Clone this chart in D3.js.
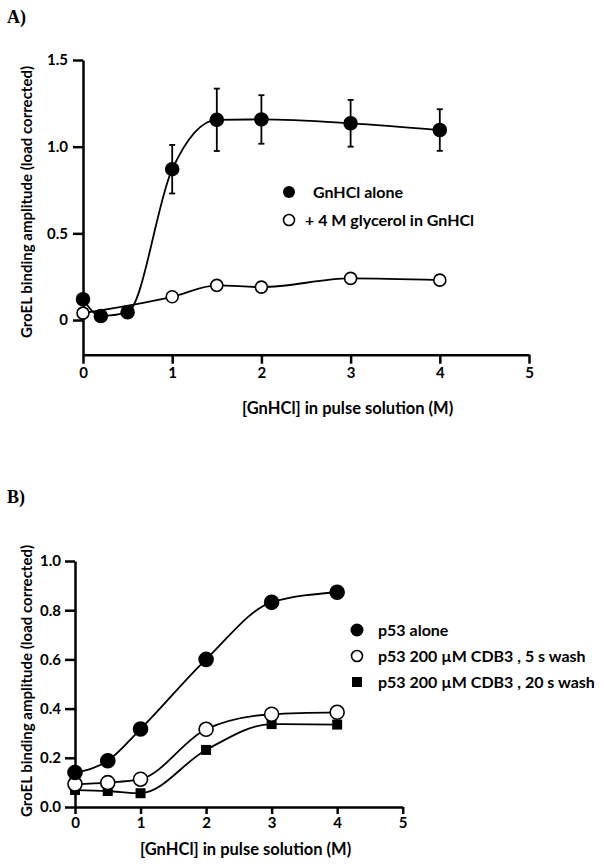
<!DOCTYPE html>
<html>
<head>
<meta charset="utf-8">
<script src="https://cdn.jsdelivr.net/npm/d3@7"></script>
<style>
  body { margin: 0; background: #fff; }
  text { font-family: Lato, "Open Sans", sans-serif; }
  text.panel { font-family: "Liberation Serif", "DejaVu Serif", serif; }
</style>
</head>
<body>
<svg id="chart" width="604" height="866"></svg>
<script>
// Panel A data
const concA = [0, 0.2, 0.5, 1, 1.5, 2, 3, 4];
const aloneA = [0.12, 0.023, 0.045, 0.87, 1.155, 1.157, 1.135, 1.096];
const aloneErrA = [null, null, null, 0.14, 0.18, 0.14, 0.135, 0.12];
const concGlyA = [0, 1, 1.5, 2, 3, 4];
const glycerolA = [0.04, 0.134, 0.2, 0.19, 0.24, 0.23];
const legendA = ["GnHCl alone", "+ 4 M glycerol in GnHCl"];

// Panel B data
const concB = [0, 0.5, 1, 2, 3, 4];
const aloneB = [0.14, 0.188, 0.317, 0.60, 0.832, 0.873];
const wash5B = [0.093, 0.099, 0.113, 0.316, 0.377, 0.385];
const wash20B = [0.069, 0.065, 0.056, 0.232, 0.337, 0.335];
const legendB = ["p53 alone", "p53 200 \u00b5M CDB3 , 5 s wash", "p53 200 \u00b5M CDB3 , 20 s wash"];

const xTicks = [0, 1, 2, 3, 4, 5];
const yTicksA = [0, 0.5, 1.0, 1.5];
const yTicksB = [0, 0.2, 0.4, 0.6, 0.8, 1.0];
const yTitle = "GroEL binding amplitude (load corrected)";
const xTitle = "[GnHCl] in pulse solution (M)";

const svg = d3.select("#chart");

function styleAxis(g) {
  g.selectAll("path, line").attr("stroke", "#000").attr("stroke-width", 2.5);
  g.selectAll("text").attr("font-size", 15).attr("font-weight", "bold")
    .attr("font-family", "Lato, sans-serif").attr("fill", "#000");
}

function drawLine(g, x, y, xs, ys) {
  const line = d3.line().x(d => x(d[0])).y(d => y(d[1])).curve(d3.curveMonotoneX);
  g.append("path")
    .datum(xs.map((v, i) => [v, ys[i]]))
    .attr("d", line)
    .attr("fill", "none")
    .attr("stroke", "#000")
    .attr("stroke-width", 1.8);
}

function drawMarks(g, x, y, xs, ys, kind, r) {
  const pts = xs.map((v, i) => [v, ys[i]]);
  if (kind === "square") {
    g.selectAll(null).data(pts).enter().append("rect")
      .attr("x", d => x(d[0]) - r).attr("y", d => y(d[1]) - r)
      .attr("width", 2 * r).attr("height", 2 * r)
      .attr("fill", "#000");
  } else {
    g.selectAll(null).data(pts).enter().append("circle")
      .attr("cx", d => x(d[0])).attr("cy", d => y(d[1])).attr("r", r)
      .attr("fill", kind === "open" ? "#fff" : "#000")
      .attr("stroke", "#000").attr("stroke-width", 1.6);
  }
}

// ---------- Panel A ----------
const xA = d3.scaleLinear().domain([0, 5]).range([83, 529]);
const yA = d3.scaleLinear().domain([-0.2, 1.5]).range([354.7, 60]);

svg.append("text").attr("class", "panel").attr("x", 7).attr("y", 23)
  .attr("font-weight", "bold").attr("font-size", 18).text("A)");

svg.append("g")
  .attr("transform", `translate(0,${yA(-0.2)})`)
  .call(d3.axisBottom(xA).tickValues(xTicks).tickFormat(d3.format("d")).tickSize(9).tickSizeOuter(0).tickPadding(4))
  .call(styleAxis);

svg.append("g")
  .attr("transform", `translate(${xA(0)},0)`)
  .call(d3.axisLeft(yA).tickValues(yTicksA).tickFormat(d => d === 0 ? "0" : d3.format(".1f")(d)).tickSize(10).tickSizeOuter(0).tickPadding(5))
  .call(styleAxis);

const gA = svg.append("g");
drawLine(gA, xA, yA, concA, aloneA);
drawLine(gA, xA, yA, concGlyA, glycerolA);

// error bars
const errA = concA.map((v, i) => [v, aloneA[i], aloneErrA[i]]).filter(d => d[2] !== null);
errA.forEach(d => {
  const cx = xA(d[0]);
  gA.append("line").attr("x1", cx).attr("x2", cx)
    .attr("y1", yA(d[1] - d[2])).attr("y2", yA(d[1] + d[2]))
    .attr("stroke", "#000").attr("stroke-width", 1.8);
  [d[1] - d[2], d[1] + d[2]].forEach(v => {
    gA.append("line").attr("x1", cx - 3).attr("x2", cx + 3)
      .attr("y1", yA(v)).attr("y2", yA(v))
      .attr("stroke", "#000").attr("stroke-width", 1.8);
  });
});

drawMarks(gA, xA, yA, concGlyA, glycerolA, "open", 6);
drawMarks(gA, xA, yA, concA, aloneA, "filled", 6.5);

svg.append("text")
  .attr("transform", `translate(26,202) rotate(-90)`)
  .attr("text-anchor", "middle").attr("dominant-baseline", "central")
  .attr("font-size", 15).attr("font-weight", "bold").text(yTitle);

svg.append("text").attr("x", 242).attr("y", 414)
  .attr("font-size", 16.5).attr("font-weight", "bold").text(xTitle);

// legend A
const legA = svg.append("g");
legA.append("circle").attr("cx", 289).attr("cy", 192).attr("r", 6).attr("fill", "#000");
legA.append("text").attr("x", 313).attr("y", 198).attr("font-size", 16).attr("font-weight", "bold").text(legendA[0]);
legA.append("circle").attr("cx", 289).attr("cy", 220).attr("r", 5.5)
  .attr("fill", "#fff").attr("stroke", "#000").attr("stroke-width", 1.6);
legA.append("text").attr("x", 305).attr("y", 226).attr("font-size", 16).attr("font-weight", "bold").text(legendA[1]);

// ---------- Panel B ----------
const xB = d3.scaleLinear().domain([0, 5]).range([75, 402.7]);
const yB = d3.scaleLinear().domain([0, 1]).range([807, 561]);

svg.append("text").attr("class", "panel").attr("x", 7).attr("y", 503)
  .attr("font-weight", "bold").attr("font-size", 18).text("B)");

svg.append("g")
  .attr("transform", `translate(0,${yB(0)})`)
  .call(d3.axisBottom(xB).tickValues(xTicks).tickFormat(d3.format("d")).tickSize(7).tickSizeOuter(0).tickPadding(3))
  .call(styleAxis);

svg.append("g")
  .attr("transform", `translate(${xB(0)},0)`)
  .call(d3.axisLeft(yB).tickValues(yTicksB).tickFormat(d3.format(".1f")).tickSize(10).tickSizeOuter(0).tickPadding(4))
  .call(styleAxis);

const gB = svg.append("g");
drawLine(gB, xB, yB, concB, aloneB);
drawLine(gB, xB, yB, concB, wash5B);
drawLine(gB, xB, yB, concB, wash20B);
drawMarks(gB, xB, yB, concB, wash20B, "square", 5);
drawMarks(gB, xB, yB, concB, wash5B, "open", 7);
drawMarks(gB, xB, yB, concB, aloneB, "filled", 7);

svg.append("text")
  .attr("transform", `translate(26,681) rotate(-90)`)
  .attr("text-anchor", "middle").attr("dominant-baseline", "central")
  .attr("font-size", 15).attr("font-weight", "bold").text(yTitle);

svg.append("text").attr("x", 140).attr("y", 855)
  .attr("font-size", 16.5).attr("font-weight", "bold").text(xTitle);

// legend B
const legB = svg.append("g");
legB.append("circle").attr("cx", 357).attr("cy", 630).attr("r", 6.5).attr("fill", "#000");
legB.append("circle").attr("cx", 357).attr("cy", 656).attr("r", 5.5)
  .attr("fill", "#fff").attr("stroke", "#000").attr("stroke-width", 1.6);
legB.append("rect").attr("x", 352).attr("y", 677).attr("width", 10).attr("height", 10).attr("fill", "#000");
[630, 656, 682].forEach((cy, i) => {
  legB.append("text").attr("x", 378).attr("y", cy + 6).attr("font-size", 16)
    .attr("font-weight", "bold").text(legendB[i]);
});
</script>
</body>
</html>
